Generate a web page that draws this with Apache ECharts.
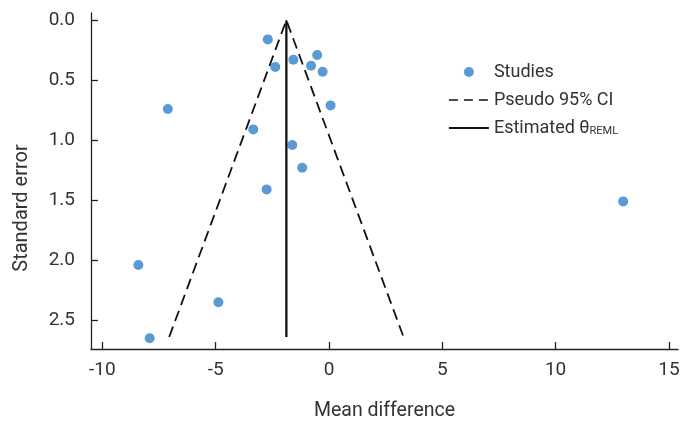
<!DOCTYPE html>
<html>
<head>
<meta charset="utf-8">
<script src="https://cdn.jsdelivr.net/npm/echarts@6/dist/echarts.min.js"></script>
<style>
  html, body { margin: 0; padding: 0; background: #fff; }
  #funnel { width: 691px; height: 431px; }
</style>
</head>
<body>
<div id="funnel"></div>
<script>
// studies: mean difference and its standard error
var studyMD = [-2.70, -0.52, -1.57, -2.37, -0.79, -0.28, 0.07, -7.11, -3.34, -1.62, -1.18, -2.75, -8.41, -4.88, -7.91, 12.98];
var studySE = [0.16, 0.29, 0.33, 0.39, 0.38, 0.43, 0.71, 0.74, 0.91, 1.04, 1.23, 1.41, 2.04, 2.35, 2.65, 1.51];

// pseudo 95% CI funnel and pooled estimate
var ciMD = [-7.05, -1.88, 3.29];
var ciSE = [2.64, 0, 2.64];
var thetaMD = [-1.88, -1.88];
var thetaSE = [0, 2.64];

var xTicks = [-10, -5, 0, 5, 10, 15];
var yTicks = [0, 0.5, 1.0, 1.5, 2.0, 2.5];

function pairs(xs, ys) {
    return xs.map(function (x, i) { return [x, ys[i]]; });
}

var font = "'Roboto', sans-serif";
var textCol = '#333';

var myChart = echarts.init(document.getElementById('funnel'));
var option = {
    animation: false,
    textStyle: { fontFamily: font },
    grid: { left: 91, right: 13, top: 13, bottom: 82 },
    xAxis: {
        type: 'value',
        min: -10.5,
        max: 15.4,
        name: 'Mean difference',
        nameLocation: 'middle',
        nameGap: 52,
        nameTextStyle: { fontSize: 19.5, color: textCol, fontFamily: font },
        axisLine: { onZero: false, lineStyle: { color: '#222', width: 1.3 } },
        axisTick: { inside: true, length: 7, customValues: xTicks, lineStyle: { color: '#222', width: 1.3 } },
        axisLabel: { customValues: xTicks, margin: 12, fontSize: 19, color: textCol, fontFamily: font },
        splitLine: { show: false }
    },
    yAxis: {
        type: 'value',
        inverse: true,
        min: -0.06,
        max: 2.74,
        name: 'Standard error',
        nameLocation: 'middle',
        nameGap: 59,
        nameTextStyle: { fontSize: 20, color: textCol, fontFamily: font, padding: [0, 54, 0, 0] },
        axisLine: { show: true, onZero: false, lineStyle: { color: '#222', width: 1.3 } },
        axisTick: { show: true, inside: true, length: 7, customValues: yTicks, lineStyle: { color: '#222', width: 1.3 } },
        axisLabel: {
            customValues: yTicks, margin: 16, fontSize: 19, color: textCol, fontFamily: font,
            formatter: function (v) { return v.toFixed(1); }
        },
        splitLine: { show: false }
    },
    legend: {
        orient: 'vertical',
        left: 443,
        top: 58,
        itemWidth: 40,
        itemHeight: 10,
        itemGap: 10,
        textStyle: {
            fontSize: 18, color: textCol, fontFamily: font, padding: [0, 0, 0, 0],
            rich: { sub: { fontSize: 11, color: textCol, fontFamily: font, padding: [7, 0, 0, 0] } }
        },
        formatter: function (name) {
            return name === 'Estimated' ? 'Estimated θ{sub|REML}' : name;
        },
        data: [
            { name: 'Studies', icon: 'circle' },
            { name: 'Pseudo 95% CI', itemStyle: { opacity: 0 }, lineStyle: { type: [9, 6], width: 1.5 } },
            { name: 'Estimated', itemStyle: { opacity: 0 }, lineStyle: { width: 1.8 } }
        ]
    },
    series: [
        {
            name: 'Pseudo 95% CI',
            type: 'line',
            symbol: 'none',
            data: pairs(ciMD, ciSE),
            lineStyle: { color: '#111', width: 1.8, type: [11, 6] },
            itemStyle: { color: '#111' }
        },
        {
            name: 'Estimated',
            type: 'line',
            symbol: 'none',
            data: pairs(thetaMD, thetaSE),
            lineStyle: { color: '#111', width: 2.3 },
            itemStyle: { color: '#111' }
        },
        {
            name: 'Studies',
            type: 'scatter',
            symbolSize: 10,
            data: pairs(studyMD, studySE),
            itemStyle: { color: '#5B9BD5', opacity: 1 }
        }
    ]
};
myChart.setOption(option);
</script>
</body>
</html>
